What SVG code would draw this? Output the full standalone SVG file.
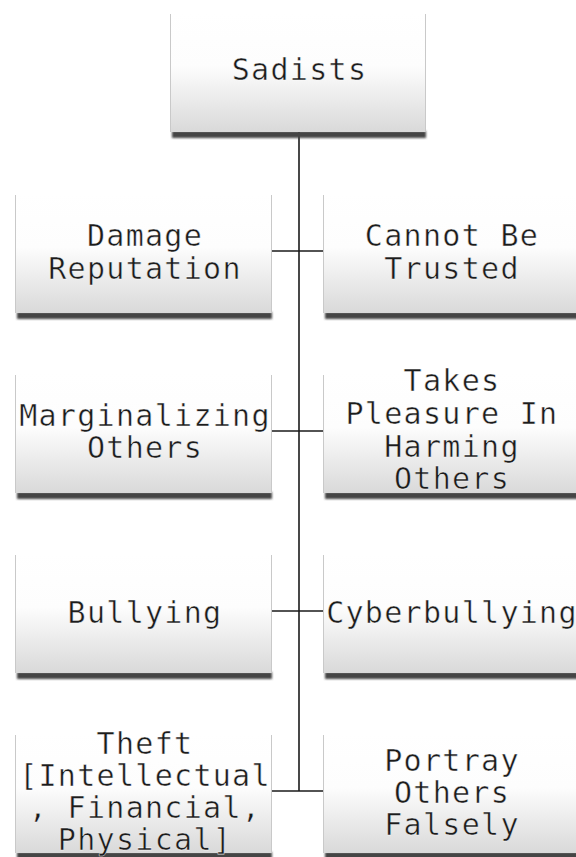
<svg xmlns="http://www.w3.org/2000/svg" width="576" height="857" viewBox="0 0 576 857">
<style>
.t{font-family:"DejaVu Sans Mono","Liberation Mono",monospace;font-size:30px;letter-spacing:1.3px;fill:#1c1c1c;stroke:#ffffff;stroke-width:0.55px;stroke-opacity:0.8;text-anchor:middle}
.box{fill:url(#g)}
.edge{stroke:#c9c9c9;stroke-width:1}
.sh{fill:#444444;filter:url(#b)}
.c{stroke:#1a1a1a;stroke-width:1.6;fill:none}
</style>
<defs>
<linearGradient id="g" x1="0" y1="0" x2="0" y2="1">
<stop offset="0" stop-color="#ffffff"/>
<stop offset="0.45" stop-color="#fdfdfd"/>
<stop offset="1" stop-color="#d9d9d9"/>
</linearGradient>
<filter id="b" x="-5%" y="-100%" width="110%" height="300%"><feGaussianBlur stdDeviation="1.3"/></filter>
</defs>
<rect width="576" height="857" fill="#fff"/>

<g id="connectors">
<line class="c" x1="299" y1="132" x2="299" y2="791"/>
<line class="c" x1="272" y1="251" x2="323" y2="251"/>
<line class="c" x1="272" y1="431" x2="323" y2="431"/>
<line class="c" x1="272" y1="611" x2="323" y2="611"/>
<line class="c" x1="272" y1="791" x2="323" y2="791"/>
</g>

<g id="sadists">
<rect class="sh" x="172" y="131" width="254" height="7"/>
<rect class="box" x="170" y="12" width="256" height="120"/>
<line class="edge" x1="170.5" y1="14" x2="170.5" y2="132"/>
<line class="edge" x1="425.5" y1="14" x2="425.5" y2="132"/>
<text class="t" x="299.5" y="80">Sadists</text>
</g>

<g id="damage-reputation">
<rect class="sh" x="17" y="312" width="255" height="7"/>
<rect class="box" x="15" y="193" width="257" height="120"/>
<line class="edge" x1="15.5" y1="195" x2="15.5" y2="313"/>
<line class="edge" x1="271.5" y1="195" x2="271.5" y2="313"/>
<text class="t" x="145" y="246">Damage</text>
<text class="t" x="145" y="279">Reputation</text>
</g>

<g id="cannot-be-trusted">
<rect class="sh" x="325" y="312" width="260" height="7"/>
<rect class="box" x="323" y="193" width="260" height="120"/>
<line class="edge" x1="323.5" y1="195" x2="323.5" y2="313"/>
<text class="t" x="452" y="246">Cannot Be</text>
<text class="t" x="452" y="279">Trusted</text>
</g>

<g id="marginalizing-others">
<rect class="sh" x="17" y="492" width="255" height="7"/>
<rect class="box" x="15" y="373" width="257" height="120"/>
<line class="edge" x1="15.5" y1="375" x2="15.5" y2="493"/>
<line class="edge" x1="271.5" y1="375" x2="271.5" y2="493"/>
<text class="t" x="145" y="426">Marginalizing</text>
<text class="t" x="145" y="458">Others</text>
</g>

<g id="takes-pleasure">
<rect class="sh" x="325" y="492" width="260" height="7"/>
<rect class="box" x="323" y="373" width="260" height="120"/>
<line class="edge" x1="323.5" y1="375" x2="323.5" y2="493"/>
<text class="t" x="452" y="391">Takes</text>
<text class="t" x="452" y="424">Pleasure In</text>
<text class="t" x="452" y="457">Harming</text>
<text class="t" x="452" y="489">Others</text>
</g>

<g id="bullying">
<rect class="sh" x="17" y="672" width="255" height="7"/>
<rect class="box" x="15" y="553" width="257" height="120"/>
<line class="edge" x1="15.5" y1="555" x2="15.5" y2="673"/>
<line class="edge" x1="271.5" y1="555" x2="271.5" y2="673"/>
<text class="t" x="145" y="623">Bullying</text>
</g>

<g id="cyberbullying">
<rect class="sh" x="325" y="672" width="260" height="7"/>
<rect class="box" x="323" y="553" width="260" height="120"/>
<line class="edge" x1="323.5" y1="555" x2="323.5" y2="673"/>
<text class="t" x="452" y="623">Cyberbullying</text>
</g>

<g id="theft">
<rect class="sh" x="17" y="852" width="255" height="7"/>
<rect class="box" x="15" y="733" width="257" height="120"/>
<line class="edge" x1="15.5" y1="735" x2="15.5" y2="853"/>
<line class="edge" x1="271.5" y1="735" x2="271.5" y2="853"/>
<text class="t" x="145" y="754">Theft</text>
<text class="t" x="145" y="786">[Intellectual</text>
<text class="t" x="145" y="818">, Financial,</text>
<text class="t" x="145" y="850">Physical]</text>
</g>

<g id="portray-others-falsely">
<rect class="sh" x="325" y="852" width="260" height="7"/>
<rect class="box" x="323" y="733" width="260" height="120"/>
<line class="edge" x1="323.5" y1="735" x2="323.5" y2="853"/>
<text class="t" x="452" y="771">Portray</text>
<text class="t" x="452" y="803">Others</text>
<text class="t" x="452" y="835">Falsely</text>
</g>
</svg>
